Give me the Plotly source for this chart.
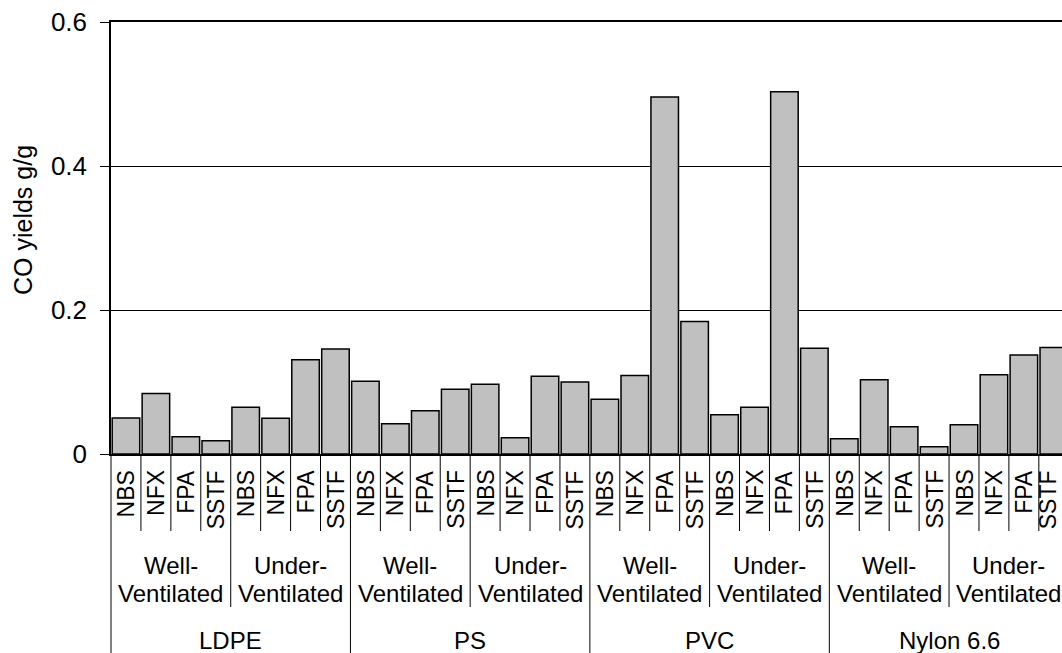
import plotly.graph_objects as go

# ---------------- data ----------------
polymers = ["LDPE", "PS", "PVC", "Nylon 6.6"]
ventilation = ["Well-<br>Ventilated", "Under-<br>Ventilated"]
tests = ["NBS", "NFX", "FPA", "SSTF"]

ldpe_well = [0.050, 0.084, 0.024, 0.0185]
ldpe_under = [0.065, 0.0495, 0.131, 0.146]
ps_well = [0.101, 0.042, 0.060, 0.090]
ps_under = [0.097, 0.0227, 0.108, 0.100]
pvc_well = [0.076, 0.109, 0.496, 0.184]
pvc_under = [0.0546, 0.065, 0.503, 0.147]
nylon_well = [0.0213, 0.103, 0.038, 0.0102]
nylon_under = [0.0407, 0.110, 0.1375, 0.148]

y_ticks = [0, 0.2, 0.4, 0.6]
y_title = "CO yields g/g"

series = [ldpe_well, ldpe_under, ps_well, ps_under,
          pvc_well, pvc_under, nylon_well, nylon_under]
values = [v for s in series for v in s]
x_idx = list(range(len(values)))

# ---------------- layout helpers ----------------
W, H = 1062, 653
L, T = 111, 22
AX0 = 454  # pixel of y=0
PLOT_H = AX0 - T
FONT = "Liberation Sans, Arial, sans-serif"


def py(pix):
    return (AX0 - pix) / PLOT_H


fig = go.Figure()
fig.add_trace(go.Bar(
    x=x_idx, y=values,
    marker=dict(color="#C0C0C0", line=dict(color="black", width=1.5)),
    hoverinfo="y",
))

annotations = []
shapes = []
n_t = len(tests)
n_v = len(ventilation)
# level 1: test names
for i, _ in enumerate(values):
    annotations.append(dict(
        x=i, y=py(468), xref="x", yref="paper", text=tests[i % n_t],
        textangle=-90, xanchor="center", yanchor="top", showarrow=False,
        xshift=-6 if i == len(values) - 1 else 0,
        font=dict(family=FONT, size=23, color="black")))
# level 2: ventilation (two lines)
line_y = [565, 593]
for g in range(len(polymers) * n_v):
    parts = ventilation[g % n_v].split("<br>")
    for k, part in enumerate(parts):
        annotations.append(dict(
            x=g * n_t + (n_t - 1) / 2, y=py(line_y[k]), xref="x", yref="paper",
            text=part, xanchor="center", yanchor="middle",
            showarrow=False, font=dict(family=FONT, size=24, color="black")))
# level 3: polymers
for p, name in enumerate(polymers):
    annotations.append(dict(
        x=p * n_t * n_v + (n_t * n_v - 1) / 2, y=py(640), xref="x", yref="paper",
        text=name, xanchor="center", yanchor="middle", showarrow=False,
        font=dict(family=FONT, size=24, color="black")))
# y title
annotations.append(dict(
    x=(23 - L) / (W - L), y=py(220), xref="paper", yref="paper",
    text=y_title, textangle=-90, xanchor="center", yanchor="middle",
    showarrow=False, font=dict(family=FONT, size=25, color="black")))

# separators
for b in range(len(values)):
    if b % (n_t * n_v) == 0:
        bottom = 653
    elif b % n_t == 0:
        bottom = 607
    else:
        bottom = 531
    if b == 0:
        shapes.append(dict(type="line", xref="paper", yref="paper",
                           x0=0, x1=0, y0=0, y1=py(bottom),
                           line=dict(color="black", width=1)))
    else:
        shapes.append(dict(type="line", xref="x", yref="paper",
                           x0=b - 0.5, x1=b - 0.5, y0=0, y1=py(bottom),
                           line=dict(color="black", width=1)))

cat_px = 29.93
x_max = -0.5 + (W - L) / cat_px

fig.update_layout(
    width=W, height=H,
    margin=dict(l=L, r=0, t=T, b=H - AX0, pad=0),
    plot_bgcolor="white", paper_bgcolor="white",
    showlegend=False, bargap=0.08,
    font=dict(family=FONT, size=24, color="black"),
    annotations=annotations, shapes=shapes,
    xaxis=dict(range=[-0.5, x_max], showticklabels=False, ticks="",
               showgrid=False, zeroline=False, showline=True,
               linecolor="black", linewidth=1.5, mirror=True),
    yaxis=dict(range=[0, 0.6], tickvals=y_ticks,
               ticktext=[f"{v:g}" for v in y_ticks],
               ticks="outside", ticklen=9, tickcolor="black", tickwidth=1,
               ticklabelstandoff=8,
               tickfont=dict(family=FONT, size=26, color="black"),
               showgrid=True, gridcolor="black", gridwidth=1,
               zeroline=False, showline=True, linecolor="black", linewidth=1.5),
)

fig.write_html(
    "out.html",
    config={"displayModeBar": False},
    post_script="document.body.style.margin='0';document.body.style.overflow='hidden';",
)
